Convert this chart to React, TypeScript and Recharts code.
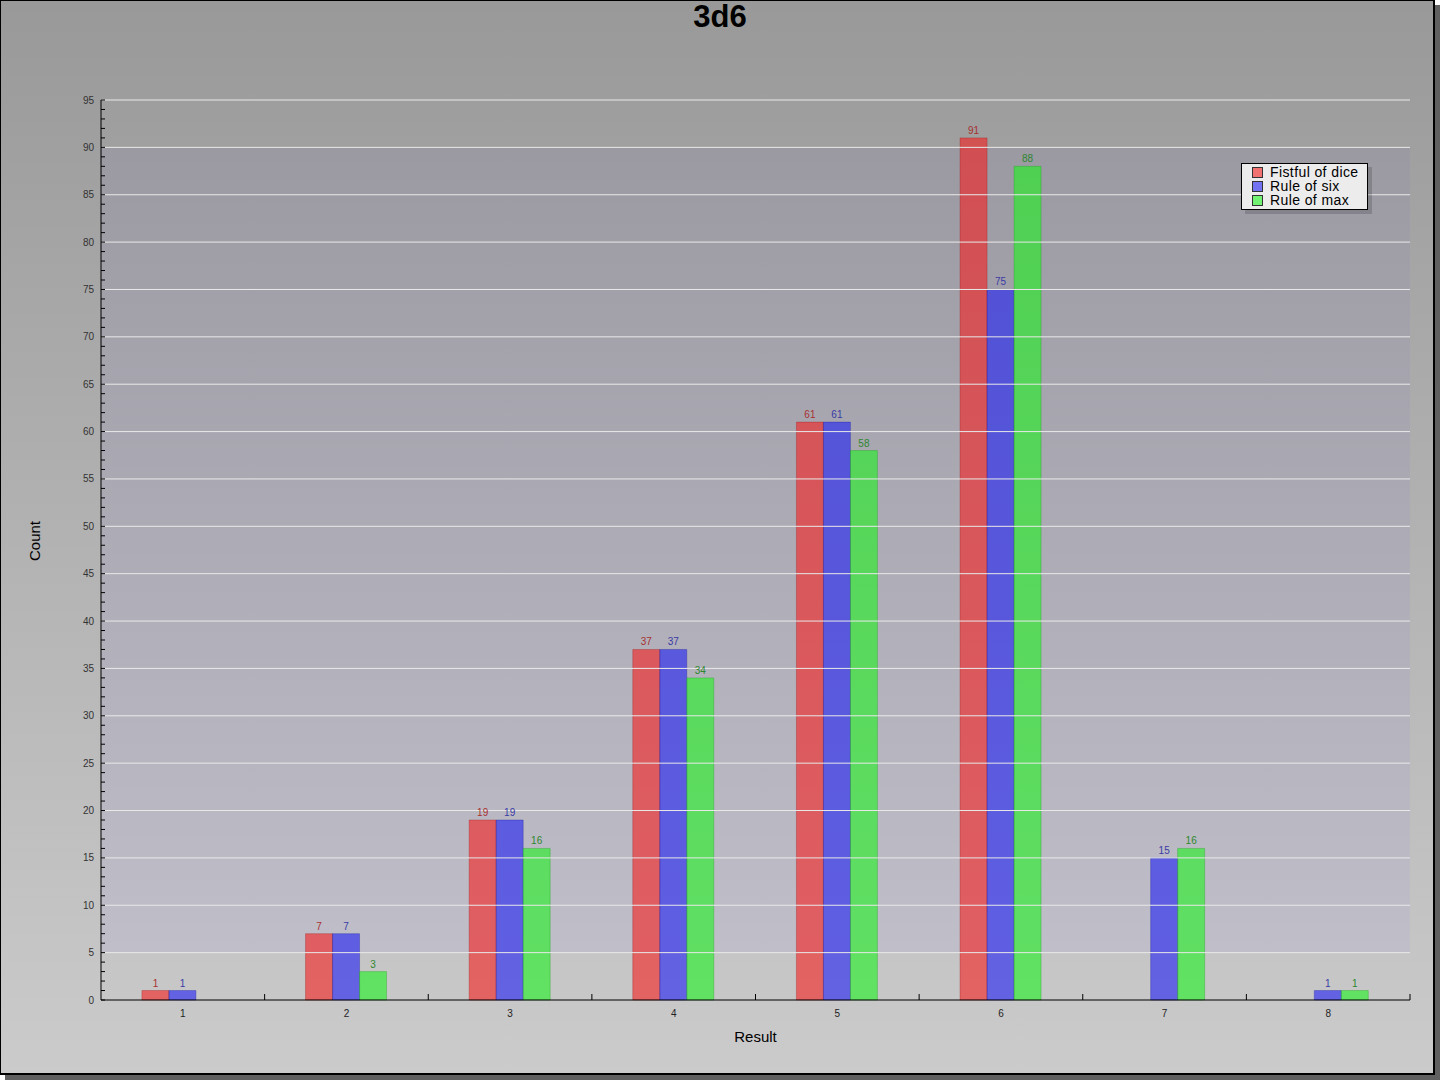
import React from 'react';
import { BarChart, Bar, XAxis, YAxis, ReferenceArea, ReferenceLine, LabelList, Legend } from 'recharts';

// ---- data ----
const categories = ['1', '2', '3', '4', '5', '6', '7', '8'];
const fistfulOfDice = [1, 7, 19, 37, 61, 91, null, null];
const ruleOfSix = [1, 7, 19, 37, 61, 75, 15, 1];
const ruleOfMax = [null, 3, 16, 34, 58, 88, 16, 1];
const majorTicks = [0, 5, 10, 15, 20, 25, 30, 35, 40, 45, 50, 55, 60, 65, 70, 75, 80, 85, 90, 95];
const minorTicks = Array.from({ length: 96 }, (_, i) => i);

const series = [
  { key: 'fistful', name: 'Fistful of dice', fill: 'rgb(245,30,30)', stroke: '#a02020', label: '#a83030', swatch: '#f27272' },
  { key: 'six', name: 'Rule of six', fill: 'rgb(30,30,245)', stroke: '#2020a0', label: '#3a3aa6', swatch: '#7272f2' },
  { key: 'max', name: 'Rule of max', fill: 'rgb(30,243,30)', stroke: '#20a020', label: '#2e862e', swatch: '#72f272' },
];

const data = categories.map((c, i) => ({
  cat: c,
  fistful: fistfulOfDice[i],
  six: ruleOfSix[i],
  max: ruleOfMax[i],
}));

// ---- layout ----
const W = 1440;
const H = 1080;
const M = { top: 100, right: 30, bottom: 50, left: 41 };
const Y_AXIS_W = 60;
const X_AXIS_H = 30;
const PLOT_W = W - M.left - M.right - Y_AXIS_W;
const BAND = PLOT_W / categories.length;
const FONT = '"Liberation Sans", Arial, sans-serif';

const YTick = (props: any) => {
  const { x, y, payload } = props;
  const v = payload.value;
  const axisX = x + 7;
  return (
    <g>
      <line x1={axisX} x2={axisX + 4} y1={y} y2={y} stroke="#000" strokeWidth={1} />
      {majorTicks.includes(v) && (
        <text x={x} y={y} dy="0.35em" textAnchor="end" fontSize={10} fill="#333" fontFamily={FONT}>
          {v}
        </text>
      )}
    </g>
  );
};

const XTick = (props: any) => {
  const { x, y, payload } = props;
  const axisY = y - 8;
  return (
    <g>
      <line x1={x + BAND / 2} x2={x + BAND / 2} y1={axisY} y2={axisY - 6} stroke="#000" strokeWidth={1} />
      <text x={x} y={y} dy={9} textAnchor="middle" fontSize={10} fill="#222" fontFamily={FONT}>
        {payload.value}
      </text>
    </g>
  );
};

const LegendBox = () => (
  <div
    style={{
      boxSizing: 'border-box',
      width: 127,
      height: 47,
      border: '1px solid #000',
      background: '#ececec',
      boxShadow: '4px 4px 0 rgba(0,0,0,0.16)',
      padding: '1px 0 1px 10px',
      fontFamily: FONT,
      fontSize: 14,
      letterSpacing: '0.4px',
      color: '#000',
    }}
  >
    {series.map((s) => (
      <div key={s.key} style={{ height: 14, lineHeight: '14px', display: 'flex', alignItems: 'center', whiteSpace: 'nowrap' }}>
        <span
          style={{
            display: 'inline-block',
            boxSizing: 'border-box',
            width: 11,
            height: 11,
            background: s.swatch,
            border: '1px solid #333',
            marginRight: 7,
          }}
        />
        <span>{s.name}</span>
      </div>
    ))}
  </div>
);

export default function App() {
  return (
    <div style={{ position: 'absolute', left: 0, top: 0, width: W, height: H }}>
      <svg width={0} height={0} style={{ position: 'absolute' }}>
        <defs>
          <linearGradient id="tintGrad" x1="0" y1="0" x2="0" y2="1">
            <stop offset="0%" stopColor="#9b9aa3" />
            <stop offset="100%" stopColor="#c0bfc9" />
          </linearGradient>
        </defs>
      </svg>
      <div
        style={{
          position: 'absolute',
          left: 0,
          top: 0,
          width: 1435,
          height: 1075,
          boxSizing: 'border-box',
          borderTop: '1px solid #000',
          borderLeft: '1px solid #000',
          borderRight: '2px solid #000',
          borderBottom: '2px solid #000',
          background: 'linear-gradient(to bottom, #999999, #cbcbcb)',
          boxShadow: '5px 5px 0 #606060',
        }}
      />
      <div
        style={{
          position: 'absolute',
          left: 0,
          top: 1,
          width: W,
          textAlign: 'center',
          fontFamily: FONT,
          fontWeight: 'bold',
          fontSize: 31,
          lineHeight: '32px',
          color: '#000',
        }}
      >
        3d6
      </div>
      <div
        style={{
          position: 'absolute',
          left: M.left + Y_AXIS_W,
          width: PLOT_W,
          top: 1028,
          textAlign: 'center',
          fontFamily: FONT,
          fontSize: 15,
          lineHeight: '18px',
          color: '#000',
        }}
      >
        Result
      </div>
      <div
        style={{
          position: 'absolute',
          left: 35 - 50,
          top: 541 - 9,
          width: 100,
          height: 18,
          textAlign: 'center',
          fontFamily: FONT,
          fontSize: 15,
          lineHeight: '18px',
          color: '#000',
          transform: 'rotate(-90deg)',
        }}
      >
        Count
      </div>
      <div style={{ position: 'absolute', left: 0, top: 0 }}>
        <BarChart width={W} height={H} data={data} margin={M} barCategoryGap="25%" barGap={0}>
          <XAxis
            dataKey="cat"
            height={X_AXIS_H}
            tick={<XTick />}
            tickLine={false}
            tickSize={0}
            tickMargin={8}
            axisLine={{ stroke: '#000', strokeWidth: 1 }}
            interval={0}
          />
          <YAxis
            width={Y_AXIS_W}
            domain={[0, 95]}
            ticks={minorTicks}
            interval={0}
            tick={<YTick />}
            tickLine={false}
            tickSize={0}
            tickMargin={7}
            axisLine={{ stroke: '#000', strokeWidth: 1 }}
            allowDecimals={false}
          />
          <ReferenceArea y1={5} y2={90} fill="url(#tintGrad)" fillOpacity={1} stroke="none" ifOverflow="visible" />
          {majorTicks
            .filter((t) => t > 0)
            .map((t) => (
              <ReferenceLine key={t} y={t} stroke="#e9e9e9" strokeWidth={1} />
            ))}
          <Legend
            layout="vertical"
            align="center"
            verticalAlign="middle"
            content={<LegendBox />}
            wrapperStyle={{ left: 1241, top: 163, width: 'auto', height: 'auto' }}
          />
          {series.map((s) => (
            <Bar
              key={s.key}
              dataKey={s.key}
              name={s.name}
              fill={s.fill}
              fillOpacity={0.6}
              stroke={s.stroke}
              strokeOpacity={0.35}
              strokeWidth={1}
              isAnimationActive={false}
            >
              <LabelList
                dataKey={s.key}
                position="top"
                offset={4}
                fill={s.label}
                fontSize={10}
                fontFamily={FONT}
                formatter={(v: any) => (v == null ? '' : v)}
              />
            </Bar>
          ))}
        </BarChart>
      </div>
    </div>
  );
}
